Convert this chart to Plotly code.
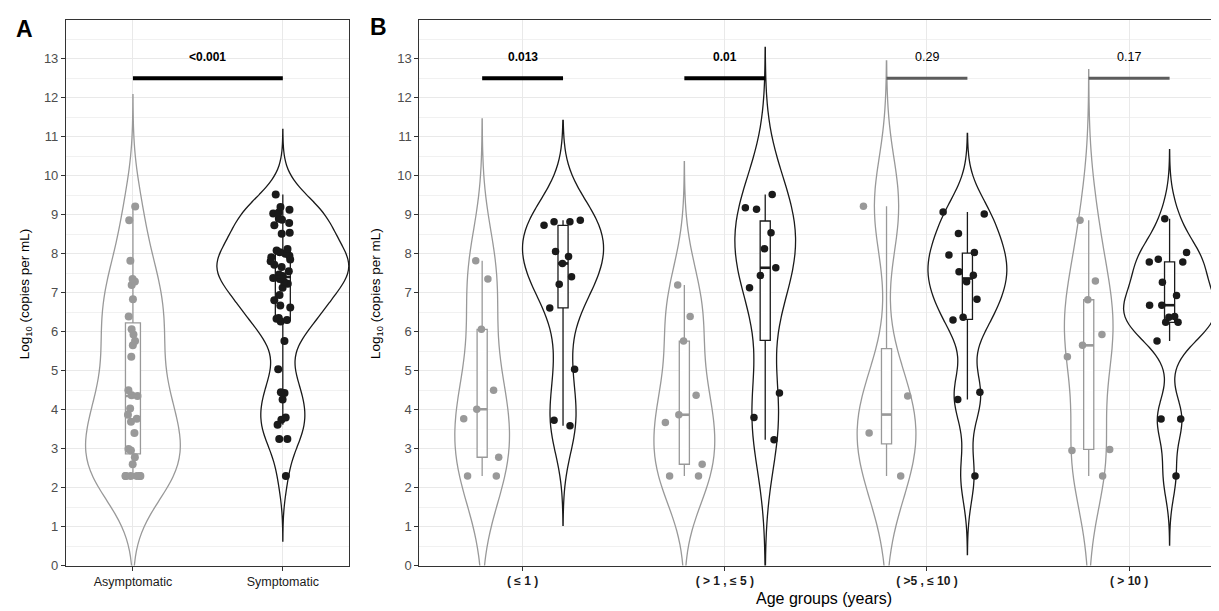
import numpy as np
import plotly.graph_objects as go

# ---------------- data ----------------
overall_groups = ["Asymptomatic", "Symptomatic"]
asym_overall = [9.21, 8.86, 7.82, 7.35, 7.29, 7.20, 6.83, 6.39, 6.06, 5.93, 5.76, 5.65,
                5.36, 4.50, 4.37, 4.35, 4.03, 3.87, 3.77, 3.69, 3.40, 2.99, 2.95, 2.78,
                2.60, 2.30, 2.30, 2.30, 2.30, 2.30, 2.30]
symp_overall = [9.52, 9.20, 9.13, 9.06, 9.03, 8.90, 8.87, 8.79, 8.73, 8.54, 8.51, 8.12,
                8.08, 8.04, 8.00, 7.95, 7.91, 7.85, 7.81, 7.72, 7.66, 7.55, 7.47, 7.43,
                7.38, 7.35, 7.28, 7.23, 7.13, 6.94, 6.81, 6.67, 6.62, 6.35, 6.33, 6.30,
                6.26, 5.76, 5.04, 4.45, 4.43, 4.26, 3.80, 3.74, 3.61, 3.25, 3.25, 2.30]

age_labels = ["( ≤ 1 )", "( > 1 , ≤ 5 )", "( >5 , ≤ 10 )", "( > 10 )"]
asym_age_1 = [7.82, 7.35, 6.06, 4.50, 4.01, 3.77, 2.78, 2.30, 2.30]
asym_age_2 = [7.20, 6.39, 5.76, 4.37, 3.87, 3.67, 2.60, 2.30, 2.30]
asym_age_3 = [9.22, 4.35, 3.40, 2.30]
asym_age_4 = [8.86, 7.30, 6.82, 5.93, 5.65, 5.36, 2.98, 2.95, 2.30]
symp_age_1 = [8.86, 8.82, 8.82, 8.73, 8.06, 7.93, 7.75, 7.41, 7.22, 6.61, 5.04, 3.73, 3.59]
symp_age_2 = [9.52, 9.18, 9.14, 8.54, 8.13, 7.64, 7.44, 7.13, 4.43, 3.80, 3.23]
symp_age_3 = [9.07, 9.02, 8.52, 8.03, 7.97, 7.54, 7.45, 7.28, 6.83, 6.37, 6.30, 4.45, 4.26, 2.30]
symp_age_4 = [8.90, 8.03, 7.86, 7.79, 7.79, 7.27, 6.93, 6.68, 6.68, 6.39, 6.37, 6.24, 6.24,
              5.76, 3.76, 3.76, 2.30]

p_overall = "<0.001"
p_age = ["0.013", "0.01", "0.29", "0.17"]
p_age_significant = [True, True, False, False]

y_ticks = list(range(14))

# ---------------- styling ----------------
W, H = 1219, 611
GREY = "#999999"
BLACK = "#1a1a1a"
FONT = "Liberation Sans, Arial, Helvetica, sans-serif"
GRID = "#e9e9e9"
MINOR = "#f1f1f1"

# drawn (maximum) violin widths, in category units
VW_A = [0.63, 0.88]
VW_B_ASYM = [0.27, 0.30, 0.29, 0.24]
VW_B_SYMP = [0.40, 0.30, 0.39, 0.455]


def px_x(p):
    return p / W


def px_y(p):
    return 1 - p / H


def nrd0(x):
    x = np.asarray(x, dtype=float)
    sd = np.std(x, ddof=1)
    q75, q25 = np.percentile(x, [75, 25])
    lo = min(sd, (q75 - q25) / 1.34)
    if lo == 0:
        lo = sd if sd > 0 else 1.0
    return 0.9 * lo * len(x) ** -0.2


def box_stats(x):
    x = np.sort(np.asarray(x, dtype=float))
    q1, med, q3 = np.percentile(x, [25, 50, 75])
    iqr = q3 - q1
    lo = x[x >= q1 - 1.5 * iqr].min()
    hi = x[x <= q3 + 1.5 * iqr].max()
    return q1, med, q3, lo, hi


fig = go.Figure()
violins, boxes, pts, meds = [], [], [], []


def add_group(vals, pos, color, xa, ya, vwidth, bwidth, jwidth, msize):
    bw = nrd0(vals)
    violins.append(dict(vals=vals, pos=pos, color=color, xa=xa, ya=ya, bw=bw, w=vwidth))
    q1, med, q3, lo, hi = box_stats(vals)
    boxes.append(dict(x=[pos], q1=[q1], median=[med], q3=[q3], lowerfence=[lo],
                      upperfence=[hi], xaxis=xa, yaxis=ya, width=bwidth, color=color))
    pts.append(dict(x0=pos, y=vals, xaxis=xa, yaxis=ya, width=jwidth, color=color,
                    size=msize))
    meds.append(dict(x=[pos - bwidth / 2, pos + bwidth / 2], y=[med, med],
                     xaxis=xa, yaxis=ya, color=color))


# Panel A
add_group(asym_overall, 1, GREY, "x", "y", VW_A[0], 0.1, 0.18, 8)
add_group(symp_overall, 2, BLACK, "x", "y", VW_A[1], 0.1, 0.18, 8)

# Panel B
asym_age = [asym_age_1, asym_age_2, asym_age_3, asym_age_4]
symp_age = [symp_age_1, symp_age_2, symp_age_3, symp_age_4]
for i in range(4):
    g = i + 1
    add_group(asym_age[i], g - 0.2, GREY, "x2", "y2", VW_B_ASYM[i], 0.05, 0.27, 7.5)
    add_group(symp_age[i], g + 0.2, BLACK, "x2", "y2", VW_B_SYMP[i], 0.05, 0.27, 7.5)

for v in violins:
    fig.add_trace(go.Violin(
        x0=v["pos"], y=v["vals"], xaxis=v["xa"], yaxis=v["ya"], points=False,
        bandwidth=v["bw"], spanmode="manual",
        span=[min(v["vals"]) - 3 * v["bw"], max(v["vals"]) + 3 * v["bw"]],
        width=v["w"], scalemode="width",
        line=dict(color=v["color"], width=1.3), fillcolor="rgba(0,0,0,0)",
        hoverinfo="skip", showlegend=False))

for b in boxes:
    fig.add_trace(go.Box(
        x=b["x"], q1=b["q1"], median=b["median"], q3=b["q3"],
        lowerfence=b["lowerfence"], upperfence=b["upperfence"],
        xaxis=b["xaxis"], yaxis=b["yaxis"], width=b["width"], boxpoints=False,
        line=dict(color=b["color"], width=1.3), fillcolor="white",
        whiskerwidth=0, hoverinfo="skip", showlegend=False))

for m in meds:
    fig.add_trace(go.Scatter(
        x=m["x"], y=m["y"], xaxis=m["xaxis"], yaxis=m["yaxis"], mode="lines",
        line=dict(color=m["color"], width=2.6), hoverinfo="skip", showlegend=False))

for p in pts:
    fig.add_trace(go.Box(
        x0=p["x0"], y=p["y"], xaxis=p["xaxis"], yaxis=p["yaxis"], width=p["width"],
        boxpoints="all", jitter=1, pointpos=0, fillcolor="rgba(0,0,0,0)",
        line=dict(color="rgba(0,0,0,0)", width=0),
        marker=dict(color=p["color"], size=p["size"], line=dict(width=0)),
        hoverinfo="skip", showlegend=False))

# significance bars
BAR_Y = 12.5
LABEL_Y = 13.05
fig.add_trace(go.Scatter(x=[1, 2], y=[BAR_Y, BAR_Y], xaxis="x", yaxis="y", mode="lines",
                         line=dict(color="black", width=4), hoverinfo="skip",
                         showlegend=False))
annotations = [dict(x=1.5, y=LABEL_Y, xref="x", yref="y", text="<b>" + p_overall + "</b>",
                    xanchor="center", yanchor="middle", showarrow=False,
                    font=dict(family=FONT, size=12, color="black"))]
for i in range(4):
    g = i + 1
    sig = p_age_significant[i]
    fig.add_trace(go.Scatter(
        x=[g - 0.2, g + 0.2], y=[BAR_Y, BAR_Y], xaxis="x2", yaxis="y2", mode="lines",
        line=dict(color="black" if sig else "#5c5c5c", width=4 if sig else 3),
        hoverinfo="skip", showlegend=False))
    annotations.append(dict(
        x=g, y=LABEL_Y, xref="x2", yref="y2", xanchor="center", yanchor="middle",
        text=("<b>" + p_age[i] + "</b>") if sig else p_age[i], showarrow=False,
        font=dict(family=FONT, size=12 if sig else 12.5, color="black")))

# titles & panel letters
ytitle = "Log<sub>10</sub> (copies per mL)"


def ann(xp, yp, text, size, angle=0):
    return dict(x=px_x(xp), y=px_y(yp), xref="paper", yref="paper", text=text,
                textangle=angle, xanchor="center", yanchor="middle", showarrow=False,
                font=dict(family=FONT, size=size, color="black"))


annotations += [
    ann(17, 289, ytitle, 13.5, -90),
    ann(369, 289, ytitle, 13.5, -90),
    ann(817, 598, "Age groups (years)", 16),
    ann(17, 21, "<b>A</b>", 23),
    ann(371, 19, "<b>B</b>", 23),
]

ydom = [1 - 565 / H, 1 - 12 / H]
yaxis_common = dict(
    domain=ydom, range=[0, 14], tickvals=y_ticks, ticks="outside", ticklen=4,
    tickcolor="#333333", tickwidth=1, showline=True, mirror=True, linecolor="#333333",
    linewidth=1, showgrid=True, gridcolor=GRID, gridwidth=1, zeroline=False,
    minor=dict(dtick=0.5, tick0=0, showgrid=True, gridcolor=MINOR, gridwidth=0.8),
    tickfont=dict(family=FONT, size=13, color="#4d4d4d"), fixedrange=True)
xaxis_common = dict(
    ticks="outside", ticklen=4, tickcolor="#333333", tickwidth=1, showline=True,
    mirror=True, linecolor="#333333", linewidth=1, showgrid=True, gridcolor=GRID,
    gridwidth=1, zeroline=False, fixedrange=True)

fig.update_layout(
    width=W, height=H, margin=dict(l=0, r=0, t=0, b=0),
    paper_bgcolor="white", plot_bgcolor="white",
    violinmode="overlay", boxmode="overlay", showlegend=False,
    font=dict(family=FONT, color="black"),
    xaxis=dict(domain=[px_x(58), px_x(341.5)], range=[0.553, 2.443], tickvals=[1, 2],
               ticktext=overall_groups, anchor="y",
               tickfont=dict(family=FONT, size=12.5, color=BLACK), **xaxis_common),
    yaxis=dict(anchor="x", **yaxis_common),
    xaxis2=dict(domain=[px_x(411.7), 1.0], range=[0.4894, 4.479], tickvals=[1, 2, 3, 4],
                ticktext=["<b>" + t + "</b>" for t in age_labels], anchor="y2",
                tickfont=dict(family=FONT, size=12, color=BLACK), **xaxis_common),
    yaxis2=dict(anchor="x2", **yaxis_common),
    annotations=annotations,
)

fig.write_html("out.html")
